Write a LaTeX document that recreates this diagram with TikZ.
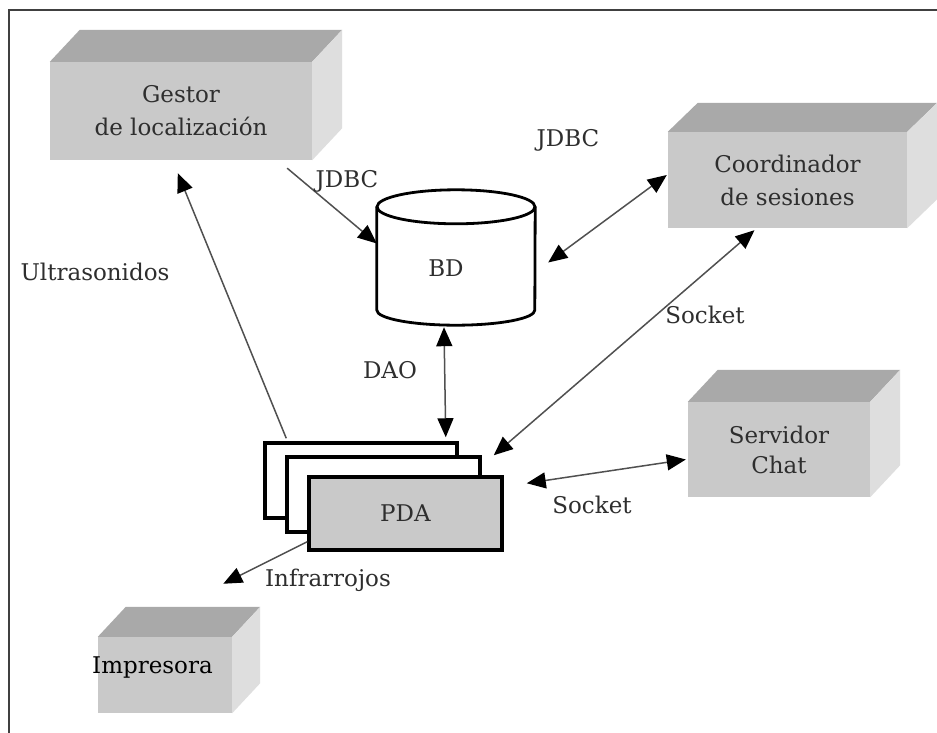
\documentclass[tikz,border=0pt]{standalone}
\usepackage{fontspec}
\setmainfont{DejaVu Serif}
\usetikzlibrary{arrows.meta,calc}
\definecolor{frontc}{HTML}{C9C9C9}
\definecolor{topc}{HTML}{A9A9A9}
\definecolor{sidec}{HTML}{DEDEDE}
\definecolor{txt}{HTML}{2E2E2E}
\definecolor{linec}{HTML}{505050}
\newcommand\cuboidfaces[3]{%
  \fill[topc] (#1.north west) -- ++(#2,-#3) -- ($(#1.north east)+(#2,-#3)$) -- (#1.north east) -- cycle;
  \fill[sidec] (#1.north east) -- ++(#2,-#3) -- ($(#1.south east)+(#2,-#3)$) -- (#1.south east) -- cycle;}
\begin{document}
\begin{tikzpicture}[x=1pt,y=-1pt,
  every node/.style={font=\fontsize{23}{33}\selectfont, text=txt},
  front/.style={fill=frontc, inner sep=0pt, align=center},
  pda/.style={draw=black, line width=3.5pt, inner sep=0pt},
  conn/.style={draw=linec, line width=1.5pt},
  onearrow/.style={conn, -{Triangle[length=19pt,width=16pt,color=black]}},
  twoarrow/.style={conn, {Triangle[length=19pt,width=16pt,color=black]}-{Triangle[length=19pt,width=16pt,color=black]}}]
\fill[white] (0,0) rectangle (937,733);
\useasboundingbox (0,0) rectangle (937,733);
% frame
\draw[line width=1.6pt, draw=black!75] (937,10) -- (9,10) -- (9,733);

% cuboids
\node[front, minimum width=262pt, minimum height=98pt] (g) at (181,111) {Gestor\\de localización};
\cuboidfaces{g}{30}{32}
\node[front, minimum width=239pt, minimum height=96pt] (c) at (787.5,180) {Coordinador\\de sesiones};
\cuboidfaces{c}{30}{29}
\node[front, minimum width=182pt, minimum height=95pt, font=\fontsize{23}{30}\selectfont] (s) at (779,449.5) {Servidor\\Chat};
\cuboidfaces{s}{30}{32}
\node[front, minimum width=134pt, minimum height=76pt] (im) at (165,675) {};
\cuboidfaces{im}{28}{30}
\node[anchor=west, inner sep=0pt, text=black] (imt) at (92,668) {Impresora};

% BD cylinder
\node[minimum width=158pt, minimum height=135pt, inner sep=0pt] (BD) at (456,257.5) {};
\draw[line width=2.8pt, fill=white] ($(BD.north west)+(0,17)$) -- ($(BD.south west)+(0,-15)$)
  arc[start angle=180, end angle=360, x radius=79pt, y radius=15pt] -- ($(BD.north east)+(0,17)$);
\draw[line width=2.8pt, fill=white] ($(BD.north)+(0,17)$) ellipse[x radius=79pt, y radius=17pt];
\node (bdt) at (446,268) {BD};

% PDA stack
\node[pda, fill=white, minimum width=192pt, minimum height=75pt] (p1) at (361,480.5) {};
\node[pda, fill=white, minimum width=193pt, minimum height=75pt] (p2) at (383.5,494.5) {};
\node[pda, fill=frontc, minimum width=193pt, minimum height=73pt] (p3) at (405.5,513.5) {PDA};

% connectors
\draw[onearrow] ($(p1.north west)+(23,-3)$) -- ($(g.south west)+(128,13)$);
\draw[onearrow] ($(g.south east)+(-25,8)$) -- ($(BD.west)+(0,-14)$);
\draw[twoarrow] ($(BD.east)+(13,5)$) -- ($(c.west)+(-1,-5)$);
\draw[twoarrow] ($(BD.south)+(-12,2)$) -- ($(p1.north east)+(-13,-4)$);
\draw[twoarrow] ($(p2.north east)+(12,0)$) -- ($(c.south)+(-33,2)$);
\draw[twoarrow] ($(p3.north east)+(23,8)$) -- ($(s.west)+(-2,10)$);
\coordinate (ir) at ($(p3.south west)+(-84,32)$);
\draw[onearrow] ($(p3.south west)+(0,-10)$) -- (ir);

% labels
\node (lu) at (95,272) {Ultrasonidos};
\node (lj1) at (347,181) {JDBC};
\node (lj2) at (568,140) {JDBC};
\node (ld) at (390,370) {DAO};
\node (ls1) at (705,315) {Socket};
\node (ls2) at (592,505) {Socket};
\node (li) at (328,580) {Infrarrojos};
\end{tikzpicture}
\end{document}
